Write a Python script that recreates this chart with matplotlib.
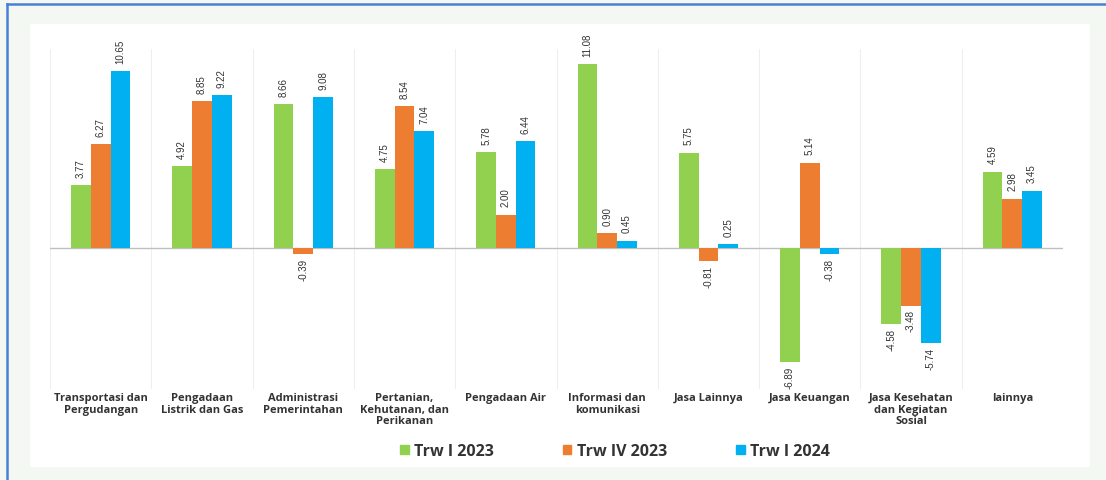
import matplotlib
matplotlib.use("Agg")
import matplotlib.pyplot as plt
from matplotlib.patches import Rectangle
from matplotlib.lines import Line2D
import numpy as np

categories = [
    "Transportasi dan\nPergudangan",
    "Pengadaan\nListrik dan Gas",
    "Administrasi\nPemerintahan",
    "Pertanian,\nKehutanan, dan\nPerikanan",
    "Pengadaan Air",
    "Informasi dan\nkomunikasi",
    "Jasa Lainnya",
    "Jasa Keuangan",
    "Jasa Kesehatan\ndan Kegiatan\nSosial",
    "lainnya",
]
series_names = ["Trw I 2023", "Trw IV 2023", "Trw I 2024"]
trw1_2023 = [3.77, 4.92, 8.66, 4.75, 5.78, 11.08, 5.75, -6.89, -4.58, 4.59]
trw4_2023 = [6.27, 8.85, -0.39, 8.54, 2.00, 0.90, -0.81, 5.14, -3.48, 2.98]
trw1_2024 = [10.65, 9.22, 9.08, 7.04, 6.44, 0.45, 0.25, -0.38, -5.74, 3.45]
colors = ["#92D050", "#ED7D31", "#00B0F0"]

W, H = 1106, 481
plt.rcParams["font.family"] = ["Open Sans", "DejaVu Sans"]
fig = plt.figure(figsize=(W / 100, H / 100), dpi=100)
fig.patch.set_facecolor("#f3f8f3")

# inner white panel (background axes)
bg = fig.add_axes([30 / W, 1 - 468 / H, (1090 - 30) / W, (468 - 25) / H], zorder=0)
bg.set_facecolor("white")
bg.set_xticks([]); bg.set_yticks([])
for s in bg.spines.values():
    s.set_visible(False)

# blue frame (top and left)
fig.add_artist(Line2D([7 / W, 1], [1 - 5 / H, 1 - 5 / H], transform=fig.transFigure,
                      color="#4a7fd6", lw=1.8, zorder=5))
fig.add_artist(Line2D([7 / W, 7 / W], [0, 1 - 5 / H], transform=fig.transFigure,
                      color="#4a7fd6", lw=1.8, zorder=5))

ax_left, ax_right = 50, 1063
ax_top, ax_bot = 50, 390
ax = fig.add_axes([ax_left / W, 1 - ax_bot / H, (ax_right - ax_left) / W, (ax_bot - ax_top) / H],
                  zorder=2)
ax.patch.set_alpha(0)
zero_px = 249
scale = 16.6
ax.set_ylim(-(ax_bot - zero_px) / scale, (zero_px - ax_top) / scale)
n = len(categories)
ax.set_xlim(-0.5, n - 0.5)
for s in ax.spines.values():
    s.set_visible(False)
ax.set_xticks([])
ax.set_yticks([])

# category separators
for b in np.arange(-0.5, n, 1.0):
    ax.axvline(b, color="#eeeeee", lw=0.8, zorder=0)
ax.axhline(0, color="#bfbfbf", lw=1.0, zorder=1)

bw = 0.195
x = np.arange(n)
all_series = [trw1_2023, trw4_2023, trw1_2024]
vfam = ["Liberation Sans Narrow", "Liberation Sans", "DejaVu Sans"]
for i, (vals, c, name) in enumerate(zip(all_series, colors, series_names)):
    xs = x + (i - 1) * bw
    ax.bar(xs, vals, width=bw, color=c, label=name, zorder=2)
    for xi, v in zip(xs, vals):
        if v >= 0:
            ax.annotate(f"{v:.2f}", (xi, v), xytext=(0, 6), textcoords="offset points",
                        rotation=90, ha="center", va="bottom", fontsize=7,
                        color="#333333", annotation_clip=False, family=vfam)
        else:
            ax.annotate(f"{v:.2f}", (xi, v), xytext=(0, -2.5), textcoords="offset points",
                        rotation=90, ha="center", va="top", fontsize=7,
                        color="#333333", annotation_clip=False, family=vfam)

# category labels
for xi, lab in zip(x, categories):
    ax.annotate(lab, (xi, 0), xycoords=("data", "axes fraction"), xytext=(0, -2),
                textcoords="offset points", ha="center", va="top", fontsize=8,
                fontweight="bold", color="#333333", linespacing=1.1,
                annotation_clip=False)

handles = [Rectangle((0, 0), 1, 1, color=c) for c in colors]
fig.legend(handles, series_names, loc="center", bbox_to_anchor=(615 / W, 1 - 452 / H),
           ncol=3, frameon=False, handlelength=0.55, handleheight=0.55,
           handletextpad=0.35, columnspacing=4.3,
           prop={"size": 11.5, "weight": "bold"}, labelcolor="#333333")

fig.savefig("out.png", dpi=100, facecolor=fig.get_facecolor())
